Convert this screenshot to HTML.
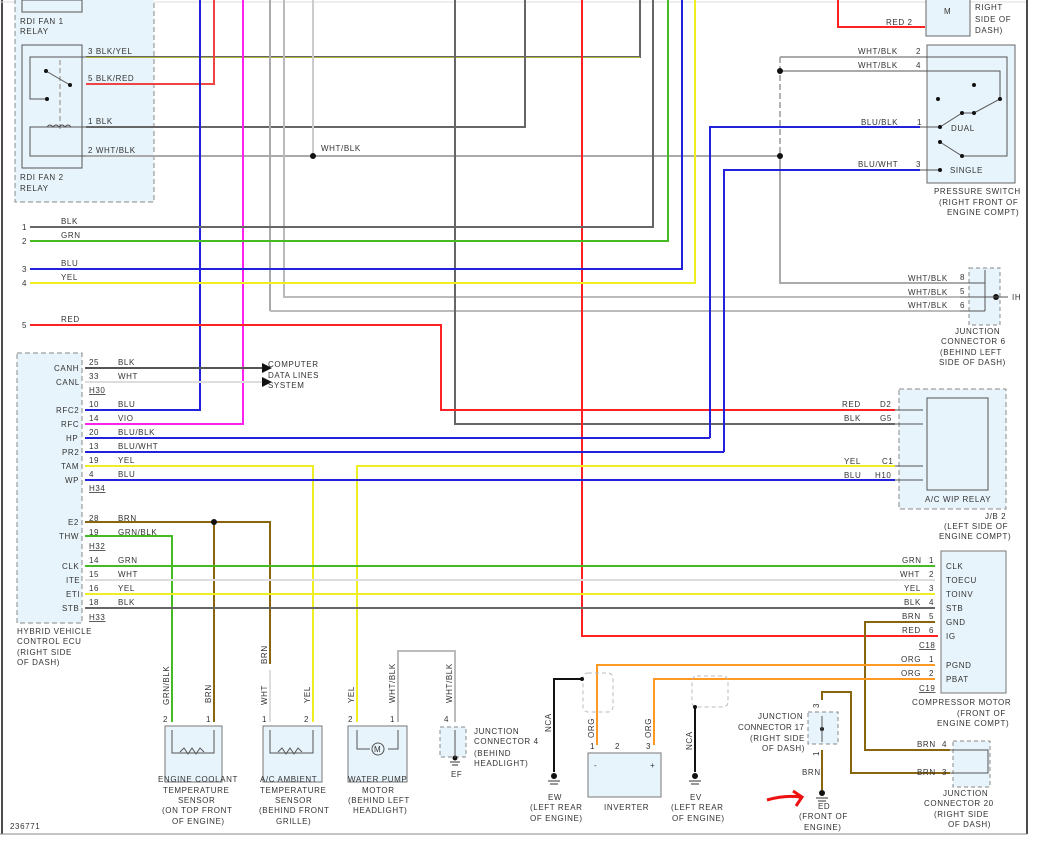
<!DOCTYPE html>
<html><head><meta charset="utf-8"><style>
html,body{margin:0;padding:0;background:#fff;}
svg{display:block;font-family:"Liberation Sans",sans-serif;}
text{font-size:8px;fill:#333;letter-spacing:0.6px;}
.u{text-decoration:underline;}
</style></head><body>
<svg width="1039" height="846" viewBox="0 0 1039 846" xmlns="http://www.w3.org/2000/svg">
<line x1="2" y1="0" x2="2" y2="834" stroke="#111" stroke-width="1.5"/>
<line x1="0" y1="2" x2="1027" y2="2" stroke="#ddd" stroke-width="1"/>
<line x1="1027" y1="0" x2="1027" y2="834" stroke="#111" stroke-width="1.5"/>
<line x1="0" y1="834" x2="1027" y2="834" stroke="#888" stroke-width="1"/>

<rect x="15" y="-2" width="139" height="204" fill="#e8f4fb" stroke="#888" stroke-dasharray="5,3"/>
<rect x="22" y="0" width="60" height="12" fill="none" stroke="#555"/>
<rect x="22" y="45" width="60" height="123" fill="none" stroke="#555"/>
<rect x="17" y="353" width="65" height="270" fill="#e8f4fb" stroke="#888" stroke-dasharray="5,3"/>
<rect x="927" y="45" width="88" height="138" fill="#e8f4fb" stroke="#666"/>
<rect x="926" y="-2" width="44" height="38" fill="#e8f4fb" stroke="#666"/>
<rect x="969" y="268" width="31" height="57" fill="#e8f4fb" stroke="#888" stroke-dasharray="4,3"/>
<rect x="899" y="389" width="107" height="120" fill="#e8f4fb" stroke="#888" stroke-dasharray="5,3"/>
<rect x="927" y="398" width="61" height="92" fill="#e8f4fb" stroke="#555"/>
<rect x="941" y="551" width="65" height="142" fill="#e8f4fb" stroke="#777"/>
<rect x="953" y="741" width="37" height="46" fill="#e8f4fb" stroke="#888" stroke-dasharray="4,3"/>
<rect x="808" y="712" width="30" height="32" fill="#e8f4fb" stroke="#888" stroke-dasharray="4,3"/>
<rect x="165" y="726" width="57" height="56" fill="#e8f4fb" stroke="#777"/>
<rect x="263" y="726" width="59" height="56" fill="#e8f4fb" stroke="#777"/>
<rect x="348" y="726" width="59" height="56" fill="#e8f4fb" stroke="#777"/>
<rect x="440" y="727" width="26" height="30" fill="#e8f4fb" stroke="#888" stroke-dasharray="4,3"/>
<rect x="588" y="753" width="73" height="44" fill="#e8f4fb" stroke="#777"/>

<g fill="none" stroke-width="2">
<polyline points="86,57 640,57 640,0" stroke="#666"/>
<line x1="86" y1="57.5" x2="640" y2="57.5" stroke="#cc3" stroke-width="0.7"/>
<polyline points="86,84 214,84 214,0" stroke="#e44"/>
<polyline points="86,127 525,127 525,0" stroke="#666"/>
<polyline points="86,156 780,156" stroke="#aaa"/>
<line x1="270" y1="0" x2="270" y2="311" stroke="#aaa"/>
<polyline points="270,311 960,311" stroke="#bbb"/>
<polyline points="284,0 284,297 960,297" stroke="#bbb"/>
<line x1="313" y1="0" x2="313" y2="156" stroke="#ccc"/>
<polyline points="200,0 200,410 85,410" stroke="#22d"/>
<polyline points="243,0 243,424 85,424" stroke="#f2e"/>
<polyline points="455,0 455,424 895,424" stroke="#666"/>
<polyline points="582,0 582,636 938,636" stroke="#f22"/>
<polyline points="30,227 653,227 653,0" stroke="#666"/>
<polyline points="30,241 668,241 668,0" stroke="#4b2"/>
<polyline points="30,269 682,269 682,0" stroke="#22d"/>
<polyline points="30,283 695,283 695,0" stroke="#ee2"/>
<polyline points="30,325 441,325 441,410 895,410" stroke="#f22"/>
<polyline points="838,0 838,27 925,27" stroke="#f22"/>
<polyline points="780,57 920,57" stroke="#aaa"/>
<polyline points="780,71 920,71" stroke="#aaa"/>
<polyline points="780,156 780,283 960,283" stroke="#aaa"/>
<polyline points="710,438 710,127 920,127" stroke="#22d"/>
<polyline points="724,452 724,170 920,170" stroke="#22d"/>
<polyline points="85,438 710,438" stroke="#22d"/>
<polyline points="85,452 724,452" stroke="#22d"/>
<line x1="85" y1="368" x2="262" y2="368" stroke="#555"/>
<line x1="85" y1="382" x2="262" y2="382" stroke="#ddd"/>
<polyline points="85,466 313,466 313,722" stroke="#ee2"/>
<polyline points="357,722 357,466 895,466" stroke="#ee2"/>
<line x1="85" y1="480" x2="895" y2="480" stroke="#22d"/>
<polyline points="85,522 270,522 270,664" stroke="#8a6510"/>
<line x1="214" y1="522" x2="214" y2="722" stroke="#8a6510"/>
<polyline points="85,536 172,536 172,722" stroke="#4b2"/>
<line x1="270" y1="670" x2="270" y2="722" stroke="#ddd"/>
<line x1="85" y1="566" x2="935" y2="566" stroke="#4b2"/>
<line x1="85" y1="580" x2="935" y2="580" stroke="#ddd"/>
<line x1="85" y1="594" x2="935" y2="594" stroke="#ee2"/>
<line x1="85" y1="608" x2="935" y2="608" stroke="#666"/>
<polyline points="398,722 398,651 455,651 455,722" stroke="#bbb"/>
<polyline points="935,622 865,622 865,750 950,750" stroke="#8a6510"/>
<polyline points="822,700 822,692 851,692 851,773 950,773" stroke="#8a6510"/>
<line x1="822" y1="750" x2="822" y2="790" stroke="#8a6510"/>
<polyline points="935,665 597,665 597,745" stroke="#f92"/>
<polyline points="935,679 654,679 654,745" stroke="#f92"/>
<polyline points="582,679 554,679 554,772" stroke="#111"/>
<line x1="695" y1="707" x2="695" y2="772" stroke="#111"/>
</g>
<line x1="780" y1="57" x2="780" y2="156" stroke="#999" stroke-width="1.5" stroke-dasharray="6,3"/>
<line x1="60" y1="60" x2="60" y2="130" stroke="#aaa" stroke-width="1.5" stroke-dasharray="5,3"/>
<rect x="583" y="673" width="30" height="39" rx="5" fill="none" stroke="#bbb" stroke-dasharray="4,3"/>
<rect x="692" y="676" width="36" height="31" rx="5" fill="none" stroke="#bbb" stroke-dasharray="4,3"/>
<g fill="#111">
<circle cx="313" cy="156" r="3"/><circle cx="780" cy="71" r="3"/><circle cx="780" cy="156" r="3"/>
<circle cx="214" cy="522" r="3"/><circle cx="582" cy="679" r="2"/><circle cx="695" cy="707" r="2"/>
<circle cx="822" cy="729" r="2"/><circle cx="996" cy="297" r="3"/><circle cx="455" cy="758" r="2.5"/>
<circle cx="554" cy="776" r="3"/><circle cx="695" cy="776" r="3"/><circle cx="822" cy="793" r="3"/>
<polygon points="262,363 272,368 262,373"/><polygon points="262,377 272,382 262,387"/>
</g>
<g stroke="#333" stroke-width="1">
<line x1="548" y1="781" x2="560" y2="781"/><line x1="550" y1="784" x2="558" y2="784"/>
<line x1="689" y1="781" x2="701" y2="781"/><line x1="691" y1="784" x2="699" y2="784"/>
<line x1="816" y1="798" x2="828" y2="798"/><line x1="818" y1="801" x2="826" y2="801"/>
<line x1="450" y1="762" x2="460" y2="762"/><line x1="452" y1="765" x2="458" y2="765"/>
</g>
<g fill="none" stroke="#555" stroke-width="1">
<polyline points="86,57 30,57 30,99 47,99"/><line x1="46" y1="71" x2="70" y2="85"/>
<polyline points="86,127 30,127 30,156 86,156"/>
<path d="M47,127 q3,-4 6,0 q3,-4 6,0 q3,-4 6,0 q3,-4 6,0"/>
<polyline points="920,57 1007,57 1007,156 962,156 940,142"/>
<polyline points="920,71 1000,71 1000,99 974,113 962,113 940,127 920,127"/>
<line x1="940" y1="170" x2="920" y2="170"/>
<line x1="985" y1="270" x2="985" y2="311"/><line x1="960" y1="283" x2="985" y2="283"/><line x1="960" y1="311" x2="985" y2="311"/><line x1="960" y1="297" x2="1008" y2="297"/>
<polyline points="895,410 923,410"/><polyline points="895,424 923,424"/><polyline points="895,466 923,466"/><polyline points="895,480 923,480"/>
<polyline points="172,730 172,753 214,753 214,730"/><path d="M180,752 l4,-4 4,6 4,-6 4,6 4,-6 4,4"/>
<polyline points="270,730 270,753 313,753 313,730"/><path d="M278,752 l4,-4 4,6 4,-6 4,6 4,-6 4,4"/>
<polyline points="357,730 357,749 370,749"/><polyline points="388,749 398,749 398,730"/>
<circle cx="378" cy="749" r="6"/>
<polyline points="950,750 988,750 988,773 950,773"/>
<line x1="822" y1="716" x2="822" y2="742"/><line x1="455" y1="730" x2="455" y2="758"/>
</g>
<g fill="#111"><circle cx="46" cy="71" r="2"/><circle cx="47" cy="99" r="2"/><circle cx="70" cy="85" r="2"/>
<circle cx="940" cy="127" r="2"/><circle cx="962" cy="113" r="2"/><circle cx="974" cy="113" r="2"/><circle cx="1000" cy="99" r="2"/><circle cx="938" cy="99" r="2"/><circle cx="974" cy="85" r="2"/><circle cx="940" cy="142" r="2"/><circle cx="962" cy="156" r="2"/><circle cx="940" cy="170" r="2"/></g>
<text x="374" y="752" fill="#22a">M</text>
<text x="944" y="14">M</text>
<text x="594" y="768">-</text><text x="650" y="768">+</text>
<path d="M767,800 Q785,795 800,797 M793,791 L802,797 L796,806" fill="none" stroke="#e11" stroke-width="3"/>

<g>
<text x="20" y="24">RDI FAN 1</text><text x="20" y="34">RELAY</text>
<text x="20" y="180">RDI FAN 2</text><text x="20" y="191">RELAY</text>
<text x="88" y="54">3 BLK/YEL</text><text x="88" y="81">5 BLK/RED</text><text x="88" y="124">1 BLK</text><text x="88" y="153">2 WHT/BLK</text>
<text x="321" y="151">WHT/BLK</text>
<text x="22" y="230">1</text><text x="22" y="244">2</text><text x="22" y="272">3</text><text x="22" y="286">4</text><text x="22" y="328">5</text>
<text x="61" y="224">BLK</text><text x="61" y="238">GRN</text><text x="61" y="266">BLU</text><text x="61" y="280">YEL</text><text x="61" y="322">RED</text>
<text x="886" y="25">RED 2</text>
<text x="975" y="10">RIGHT</text><text x="975" y="22">SIDE OF</text><text x="975" y="33">DASH)</text>
<text x="858" y="54">WHT/BLK</text><text x="916" y="54">2</text>
<text x="858" y="68">WHT/BLK</text><text x="916" y="68">4</text>
<text x="861" y="125">BLU/BLK</text><text x="917" y="125">1</text>
<text x="858" y="167">BLU/WHT</text><text x="916" y="167">3</text>
<text x="951" y="131">DUAL</text><text x="950" y="173">SINGLE</text>
<text x="934" y="194">PRESSURE SWITCH</text><text x="939" y="205">(RIGHT FRONT OF</text><text x="947" y="215">ENGINE COMPT)</text>
<text x="908" y="281">WHT/BLK</text><text x="960" y="280">8</text>
<text x="908" y="295">WHT/BLK</text><text x="960" y="294">5</text>
<text x="908" y="308">WHT/BLK</text><text x="960" y="308">6</text>
<text x="1012" y="300">IH</text>
<text x="955" y="334">JUNCTION</text><text x="941" y="344">CONNECTOR 6</text><text x="940" y="355">(BEHIND LEFT</text><text x="939" y="365">SIDE OF DASH)</text>
<text x="268" y="367">COMPUTER</text><text x="268" y="378">DATA LINES</text><text x="268" y="388">SYSTEM</text>
<text x="54" y="371">CANH</text><text x="56" y="385">CANL</text>
<text x="56" y="413">RFC2</text><text x="61" y="427">RFC</text><text x="66" y="441">HP</text><text x="62" y="455">PR2</text><text x="61" y="469">TAM</text><text x="65" y="483">WP</text>
<text x="68" y="525">E2</text><text x="59" y="539">THW</text>
<text x="62" y="569">CLK</text><text x="66" y="583">ITE</text><text x="66" y="597">ETI</text><text x="62" y="611">STB</text>
<text x="89" y="365">25</text><text x="89" y="379">33</text><text x="89" y="393" class="u">H30</text>
<text x="89" y="407">10</text><text x="89" y="421">14</text><text x="89" y="435">20</text><text x="89" y="449">13</text><text x="89" y="463">19</text><text x="89" y="477">4</text><text x="89" y="491" class="u">H34</text>
<text x="89" y="521">28</text><text x="89" y="535">19</text><text x="89" y="549" class="u">H32</text>
<text x="89" y="563">14</text><text x="89" y="577">15</text><text x="89" y="591">16</text><text x="89" y="605">18</text><text x="89" y="620" class="u">H33</text>
<text x="118" y="365">BLK</text><text x="118" y="379">WHT</text><text x="118" y="407">BLU</text><text x="118" y="421">VIO</text><text x="118" y="435">BLU/BLK</text><text x="118" y="449">BLU/WHT</text><text x="118" y="463">YEL</text><text x="118" y="477">BLU</text>
<text x="118" y="521">BRN</text><text x="118" y="535">GRN/BLK</text><text x="118" y="563">GRN</text><text x="118" y="577">WHT</text><text x="118" y="591">YEL</text><text x="118" y="605">BLK</text>
<text x="17" y="634">HYBRID VEHICLE</text><text x="17" y="644">CONTROL ECU</text><text x="17" y="655">(RIGHT SIDE</text><text x="17" y="665">OF DASH)</text>
<text x="842" y="407">RED</text><text x="880" y="407">D2</text>
<text x="844" y="421">BLK</text><text x="880" y="421">G5</text>
<text x="844" y="464">YEL</text><text x="882" y="464">C1</text>
<text x="844" y="478">BLU</text><text x="875" y="478">H10</text>
<text x="925" y="502">A/C WIP RELAY</text>
<text x="985" y="519">J/B 2</text><text x="944" y="529">(LEFT SIDE OF</text><text x="939" y="539">ENGINE COMPT)</text>
<text x="902" y="563">GRN</text><text x="929" y="563">1</text><text x="946" y="569">CLK</text>
<text x="900" y="577">WHT</text><text x="929" y="577">2</text><text x="946" y="583">TOECU</text>
<text x="904" y="591">YEL</text><text x="929" y="591">3</text><text x="946" y="597">TOINV</text>
<text x="904" y="605">BLK</text><text x="929" y="605">4</text><text x="946" y="611">STB</text>
<text x="902" y="619">BRN</text><text x="929" y="619">5</text><text x="946" y="625">GND</text>
<text x="902" y="633">RED</text><text x="929" y="633">6</text><text x="946" y="639">IG</text>
<text x="919" y="648" class="u">C18</text>
<text x="901" y="662">ORG</text><text x="929" y="662">1</text><text x="946" y="668">PGND</text>
<text x="901" y="676">ORG</text><text x="929" y="676">2</text><text x="946" y="682">PBAT</text>
<text x="919" y="691" class="u">C19</text>
<text x="912" y="705">COMPRESSOR MOTOR</text><text x="957" y="716">(FRONT OF</text><text x="937" y="726">ENGINE COMPT)</text>
<text x="917" y="747">BRN</text><text x="942" y="747">4</text>
<text x="917" y="775">BRN</text><text x="942" y="775">3</text>
<text x="943" y="796">JUNCTION</text><text x="924" y="806">CONNECTOR 20</text><text x="934" y="817">(RIGHT SIDE</text><text x="948" y="827">OF DASH)</text>
<text x="758" y="719">JUNCTION</text><text x="738" y="730" style="letter-spacing:0.3px">CONNECTOR 17</text><text x="750" y="741">(RIGHT SIDE</text><text x="762" y="751">OF DASH)</text>
<text x="802" y="775">BRN</text>
<text x="818" y="809">ED</text><text x="799" y="819">(FRONT OF</text><text x="804" y="830">ENGINE)</text>
<text x="548" y="800">EW</text><text x="530" y="810">(LEFT REAR</text><text x="530" y="821">OF ENGINE)</text>
<text x="604" y="810">INVERTER</text>
<text x="690" y="800">EV</text><text x="671" y="810">(LEFT REAR</text><text x="672" y="821">OF ENGINE)</text>
<text x="590" y="749">1</text><text x="615" y="749">2</text><text x="646" y="749">3</text>
<text x="474" y="734">JUNCTION</text><text x="474" y="744">CONNECTOR 4</text><text x="474" y="756">(BEHIND</text><text x="474" y="766">HEADLIGHT)</text>
<text x="451" y="777">EF</text><text x="444" y="722">4</text>
<text x="163" y="722">2</text><text x="206" y="722">1</text><text x="262" y="722">1</text><text x="304" y="722">2</text><text x="348" y="722">2</text><text x="390" y="722">1</text>
<text x="158" y="782">ENGINE COOLANT</text><text x="163" y="793">TEMPERATURE</text><text x="178" y="803">SENSOR</text><text x="162" y="813">(ON TOP FRONT</text><text x="172" y="824">OF ENGINE)</text>
<text x="260" y="782">A/C AMBIENT</text><text x="260" y="793">TEMPERATURE</text><text x="275" y="803">SENSOR</text><text x="259" y="813">(BEHIND FRONT</text><text x="276" y="824">GRILLE)</text>
<text x="348" y="782">WATER PUMP</text><text x="362" y="793">MOTOR</text><text x="348" y="803">(BEHIND LEFT</text><text x="353" y="813">HEADLIGHT)</text>
<text x="10" y="829">236771</text>
<text transform="translate(169,705) rotate(-90)">GRN/BLK</text>
<text transform="translate(211,703) rotate(-90)">BRN</text>
<text transform="translate(267,664) rotate(-90)">BRN</text>
<text transform="translate(267,705) rotate(-90)">WHT</text>
<text transform="translate(310,703) rotate(-90)">YEL</text>
<text transform="translate(354,703) rotate(-90)">YEL</text>
<text transform="translate(395,703) rotate(-90)">WHT/BLK</text>
<text transform="translate(452,703) rotate(-90)">WHT/BLK</text>
<text transform="translate(551,732) rotate(-90)">NCA</text>
<text transform="translate(594,738) rotate(-90)">ORG</text>
<text transform="translate(651,738) rotate(-90)">ORG</text>
<text transform="translate(692,750) rotate(-90)">NCA</text>
<text transform="translate(819,708) rotate(-90)">3</text>
<text transform="translate(819,756) rotate(-90)">1</text>
</g>
</svg>
</body></html>
